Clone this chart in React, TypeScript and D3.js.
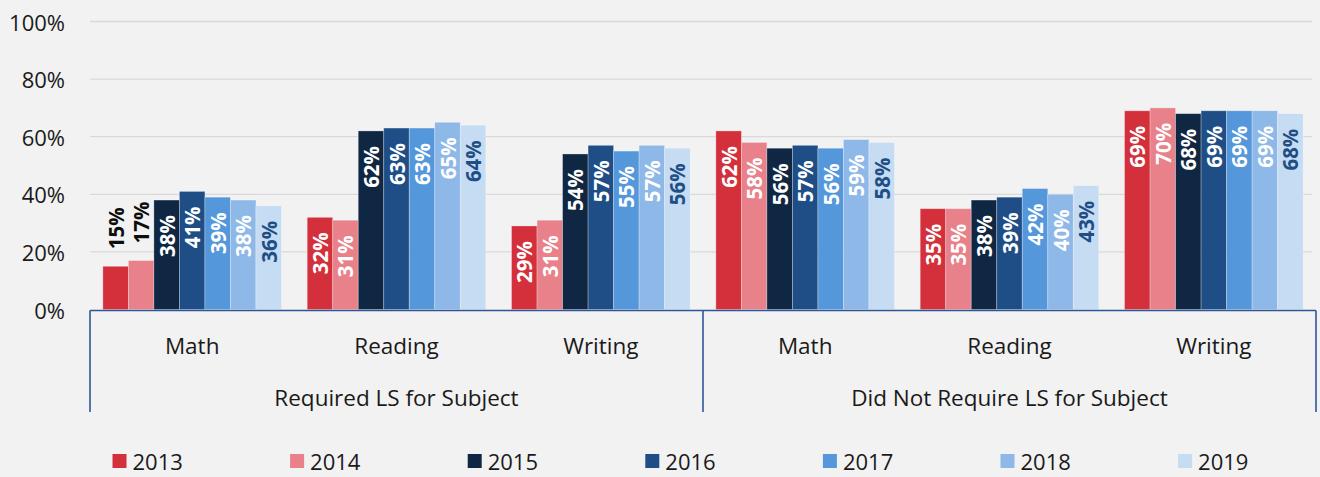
import React from "react";
import * as d3 from "d3";

const years = ["2013", "2014", "2015", "2016", "2017", "2018", "2019"];
const categories = ["Math", "Reading", "Writing", "Math", "Reading", "Writing"];
const groups = ["Required LS for Subject", "Did Not Require LS for Subject"];
const colors = ["#d3303c", "#e8818a", "#0f2742", "#1f4e87", "#5497db", "#8db8e8", "#c5dcf2"];
const labelColors = ["#ffffff", "#ffffff", "#ffffff", "#ffffff", "#ffffff", "#ffffff", "#1f4e87"];

// values per category, series order 2013..2019
const reqMath = [15, 17, 38, 41, 39, 38, 36];
const reqReading = [32, 31, 62, 63, 63, 65, 64];
const reqWriting = [29, 31, 54, 57, 55, 57, 56];
const dnrMath = [62, 58, 56, 57, 56, 59, 58];
const dnrReading = [35, 35, 38, 39, 42, 40, 43];
const dnrWriting = [69, 70, 68, 69, 69, 69, 68];
const values = [reqMath, reqReading, reqWriting, dnrMath, dnrReading, dnrWriting];
const yTicks = [0, 20, 40, 60, 80, 100];

const W = 1320;
const H = 477;
const left = 90;
const right = 1316;
const top = 21.5;
const bottom = 309.5;
const FONT = "'Open Sans', 'Noto Sans', sans-serif";

export default function App() {
  const x0 = d3.scaleBand<number>().domain(d3.range(categories.length)).range([left, right]).paddingInner(0).paddingOuter(0);
  const bw = x0.bandwidth();
  const inner = bw * 0.874;
  const x1 = d3.scaleBand<number>().domain(d3.range(years.length)).range([(bw - inner) / 2, (bw + inner) / 2]).padding(0);
  const y = d3.scaleLinear().domain([0, 100]).range([bottom, top]);
  const groupEdges = [left, left + bw * 3, right];

  return (
    <svg width={W} height={H} style={{ position: "absolute", left: 0, top: 0, background: "#f2f2f2" }} fontFamily={FONT}>
      <rect x={0} y={0} width={W} height={H} fill="#f2f2f2" />
      {yTicks.map((t) => (
        <g key={t}>
          {t > 0 && <line x1={left} x2={right - 4} y1={y(t)} y2={y(t)} stroke="#d9d9d9" strokeWidth={1.3} />}
          <text x={65} y={y(t)} textAnchor="end" dominantBaseline="central" fontSize={22} fill="#1a1a1a">{t}%</text>
        </g>
      ))}
      {values.map((vals, ci) => (
        <g key={ci} transform={`translate(${x0(ci)},0)`}>
          {vals.map((v, si) => {
            const bx = x1(si)!;
            const by = y(v);
            const h = bottom - by;
            const cx = bx + x1.bandwidth() / 2;
            const inside = h > 62;
            return (
              <g key={si}>
                <rect x={bx} y={by} width={x1.bandwidth()} height={h} fill={colors[si]} stroke="rgba(255,255,255,0.35)" strokeWidth={0.8} />
                {inside ? (
                  <text transform={`translate(${cx},${by + 15}) rotate(-90)`} textAnchor="end" dominantBaseline="central" fontSize={20.5} fontWeight={700} fill={labelColors[si]}>{v}%</text>
                ) : (
                  <text transform={`translate(${cx},${by - 17}) rotate(-90)`} textAnchor="start" dominantBaseline="central" fontSize={20.5} fontWeight={700} fill="#0d0d0d">{v}%</text>
                )}
              </g>
            );
          })}
        </g>
      ))}
      <line x1={left} x2={right} y1={bottom + 1} y2={bottom + 1} stroke="#2f5597" strokeWidth={1.6} />
      {groupEdges.map((gx, i) => (
        <line key={i} x1={gx} x2={gx} y1={bottom + 1} y2={412} stroke="#2f5597" strokeWidth={1.6} />
      ))}
      {categories.map((c, i) => (
        <text key={i} x={x0(i)! + bw / 2} y={345} textAnchor="middle" dominantBaseline="central" fontSize={22.5} fill="#1a1a1a">{c}</text>
      ))}
      {groups.map((g, i) => (
        <text key={i} x={(groupEdges[i] + groupEdges[i + 1]) / 2} y={397} textAnchor="middle" dominantBaseline="central" fontSize={22.5} fill="#1a1a1a">{g}</text>
      ))}
      {years.map((yr, i) => (
        <g key={yr} transform={`translate(${112.5 + i * 177.6},461)`}>
          <rect x={0} y={-7} width={14} height={14} fill={colors[i]} />
          <text x={20} y={0} dominantBaseline="central" fontSize={22} fill="#1a1a1a">{yr}</text>
        </g>
      ))}
    </svg>
  );
}
